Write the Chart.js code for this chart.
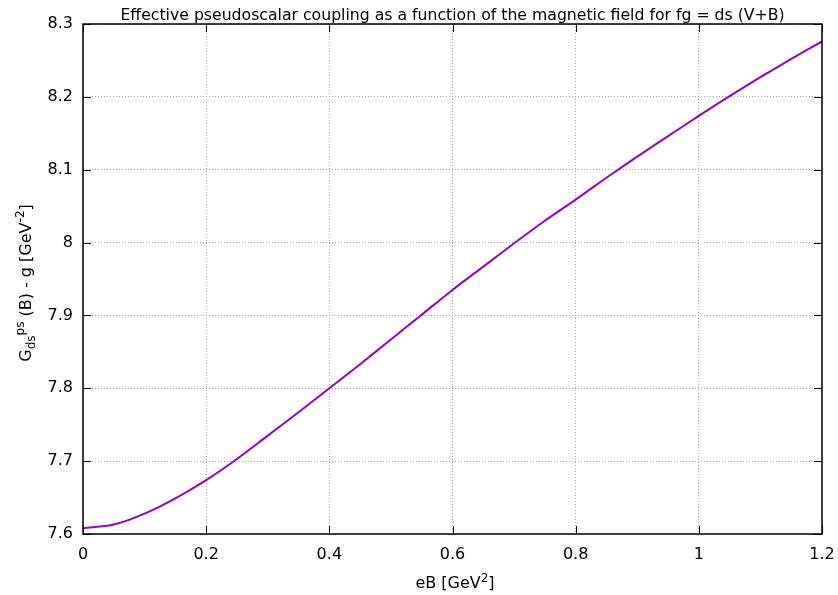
<!DOCTYPE html>
<html>
<head>
<meta charset="utf-8">
<script src="https://cdn.jsdelivr.net/npm/chart.js@4"></script>
<style>
  html, body { margin: 0; padding: 0; background: #fff; }
  #wrap { width: 838px; height: 595px; }
</style>
</head>
<body>
<div id="wrap"><canvas id="myChart" width="838" height="595"></canvas></div>
<script>
// values
const eB = [0, 0.05, 0.1, 0.15, 0.2, 0.25, 0.3, 0.35, 0.4, 0.45, 0.5, 0.55, 0.6,
            0.65, 0.7, 0.75, 0.8, 0.85, 0.9, 0.95, 1.0, 1.05, 1.1, 1.15, 1.2];
const coupling = [7.608, 7.613, 7.628, 7.649, 7.674, 7.703, 7.735, 7.767, 7.800,
                  7.833, 7.867, 7.901, 7.935, 7.967, 7.999, 8.030, 8.059, 8.089,
                  8.118, 8.146, 8.174, 8.201, 8.227, 8.252, 8.276];
const xTicks = [0, 0.2, 0.4, 0.6, 0.8, 1, 1.2];
const yTicks = [7.6, 7.7, 7.8, 7.9, 8, 8.1, 8.2, 8.3];
const titleText = 'Effective pseudoscalar coupling as a function of the magnetic field for fg = ds (V+B)';

const FONT = '"DejaVu Sans", sans-serif';

// draws frame, inward ticks, title and the axis labels with sub/superscripts
const gnuplotLook = {
  id: 'gnuplotLook',
  afterDatasetsDraw(chart) {
    const { ctx, chartArea: a, scales } = chart;
    ctx.save();
    ctx.strokeStyle = '#000';
    ctx.lineWidth = 1;
    ctx.beginPath();
    xTicks.forEach(v => {
      const x = Math.round(scales.x.getPixelForValue(v)) + 0.5;
      ctx.moveTo(x, a.bottom); ctx.lineTo(x, a.bottom - 8);
      ctx.moveTo(x, a.top); ctx.lineTo(x, a.top + 8);
    });
    yTicks.forEach(v => {
      const y = Math.round(scales.y.getPixelForValue(v)) + 0.5;
      ctx.moveTo(a.left, y); ctx.lineTo(a.left + 8, y);
      ctx.moveTo(a.right, y); ctx.lineTo(a.right - 8, y);
    });
    ctx.stroke();
    ctx.lineWidth = 1.5;
    ctx.strokeRect(a.left, a.top, a.right - a.left, a.bottom - a.top);

    ctx.fillStyle = '#000';
    ctx.font = '15.7px ' + FONT;
    ctx.textAlign = 'center';
    ctx.textBaseline = 'alphabetic';
    ctx.fillText(titleText, (a.left + a.right) / 2, 20);

    // x axis label: eB [GeV^2]
    drawRich(ctx, [['eB [GeV', 16, 0], ['2', 12, -6], [']', 16, 0]], 455, 588);

    // y axis label, rotated
    ctx.save();
    ctx.translate(31, 283);
    ctx.rotate(-Math.PI / 2);
    drawRich(ctx, [['G', 16, 0], ['ds', 12, 4], ['ps', 12, -7],
                   [' (B) - g [GeV', 16, 0], ['-2', 12, -7], [']', 16, 0]], 0, 0);
    ctx.restore();
    ctx.restore();
  }
};

// parts: [text, size, baseline shift]
function drawRich(ctx, parts, cx, y) {
  const widths = parts.map(p => { ctx.font = p[1] + 'px ' + FONT; return ctx.measureText(p[0]).width; });
  let x = cx - widths.reduce((s, w) => s + w, 0) / 2;
  ctx.textAlign = 'left';
  parts.forEach((p, i) => {
    ctx.font = p[1] + 'px ' + FONT;
    ctx.fillText(p[0], x, y + p[2]);
    x += widths[i];
  });
}

new Chart(document.getElementById('myChart'), {
  type: 'line',
  data: {
    datasets: [{
      data: eB.map((v, i) => ({ x: v, y: coupling[i] })),
      borderColor: '#9400d3',
      borderWidth: 2,
      pointRadius: 0,
      tension: 0.3,
      fill: false
    }]
  },
  options: {
    responsive: false,
    animation: false,
    layout: { padding: { top: 24, right: 16, left: 0, bottom: 0 } },
    plugins: { legend: { display: false }, tooltip: { enabled: false } },
    scales: {
      x: {
        type: 'linear',
        min: 0, max: 1.2,
        afterFit(s) { s.height = 61; s.paddingLeft = 0; s.paddingRight = 0; },
        afterBuildTicks(s) { s.ticks = xTicks.map(v => ({ value: v })); },
        ticks: {
          color: '#000', font: { family: FONT, size: 16 }, padding: 11,
          maxRotation: 0, callback: v => String(v)
        },
        grid: { color: '#a8a8a8', lineWidth: 1, tickLength: 0, drawTicks: false },
        border: { display: false, dash: [1, 2] }
      },
      y: {
        min: 7.6, max: 8.3,
        afterFit(s) { s.width = 83; s.paddingTop = 0; s.paddingBottom = 0; },
        afterBuildTicks(s) { s.ticks = yTicks.map(v => ({ value: v })); },
        ticks: {
          color: '#000', font: { family: FONT, size: 16 }, padding: 10,
          callback: v => String(Math.round(v * 10) / 10)
        },
        grid: { color: '#a8a8a8', lineWidth: 1, tickLength: 0, drawTicks: false },
        border: { display: false, dash: [1, 2] }
      }
    }
  },
  plugins: [gnuplotLook]
});
</script>
</body>
</html>
